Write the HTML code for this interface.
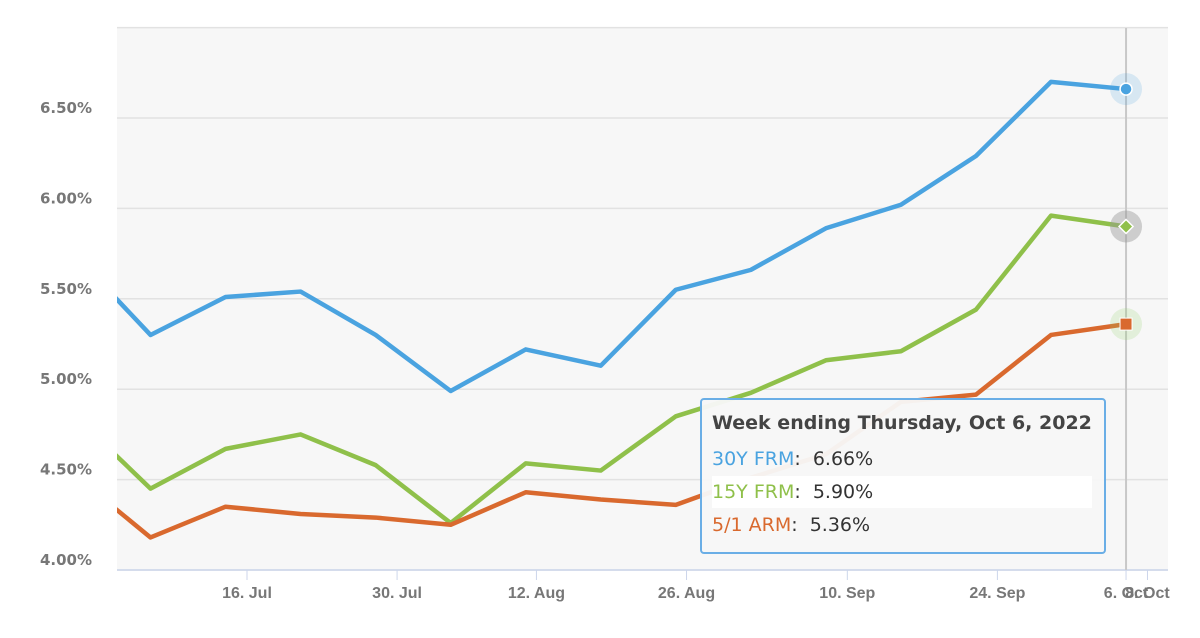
<!DOCTYPE html>
<html><head><meta charset="utf-8"><style>
body{margin:0;background:#fff;width:1200px;height:638px;overflow:hidden;font-family:"Liberation Sans",sans-serif}
#tt{position:absolute;left:700px;top:398px;width:406px;height:156px;border:2px solid #6aaee6;border-radius:4px;background:rgba(247,247,247,0.96);box-sizing:border-box;color:#333;font-family:"DejaVu Sans",sans-serif}
#tt .t{position:absolute;left:10px;top:12px;font-size:19px;font-weight:bold;color:#444;white-space:nowrap}
#tt .r{position:absolute;left:10px;height:32px;width:380px;font-size:19px;line-height:32px;white-space:nowrap}
</style></head><body>
<svg id="chart" width="1200" height="638" style="position:absolute;left:0;top:0"></svg>
<div id="tt">
<div class="t">Week ending Thursday, Oct 6, 2022</div>
<div class="r" style="top:43px"><span style="color:#4aa3e0">30Y FRM</span>:&nbsp; 6.66%</div>
<div class="r" style="top:76px;background:#fff"><span style="color:#8fc04a">15Y FRM</span>:&nbsp; 5.90%</div>
<div class="r" style="top:109px"><span style="color:#d9692e">5/1 ARM</span>:&nbsp; 5.36%</div>
</div>
<script>
const weeks = ["2022-06-30","2022-07-07","2022-07-14","2022-07-21","2022-07-28","2022-08-04","2022-08-11","2022-08-18","2022-08-25","2022-09-01","2022-09-08","2022-09-15","2022-09-22","2022-09-29","2022-10-06"];
const frm30 = [5.74,5.30,5.51,5.54,5.30,4.99,5.22,5.13,5.55,5.66,5.89,6.02,6.29,6.70,6.66];
const frm15 = [4.85,4.45,4.67,4.75,4.58,4.26,4.59,4.55,4.85,4.98,5.16,5.21,5.44,5.96,5.90];
const arm51 = [4.52,4.18,4.35,4.31,4.29,4.25,4.43,4.39,4.36,4.51,4.64,4.93,4.97,5.30,5.36];
const yTicks = [4.0,4.5,5.0,5.5,6.0,6.5,7.0];
const xTickDates = ["2022-07-16","2022-07-30","2022-08-12","2022-08-26","2022-09-10","2022-09-24","2022-10-06","2022-10-08"];
const xTickLabels = ["16. Jul","30. Jul","12. Aug","26. Aug","10. Sep","24. Sep","6. Oct","8. Oct"];

const NS="http://www.w3.org/2000/svg";
const svg=document.getElementById('chart');
const L=117,R=1168,T=28,B=570;
const d0=Date.parse("2022-07-16");
const x=d=>247+(Date.parse(d)-d0)/86400000*10.72;
const y=v=>570-(v-4)*180.8;
function mk(tag,a,p){const e=document.createElementNS(NS,tag);for(const k in a)e.setAttribute(k,a[k]);(p||svg).appendChild(e);return e;}
const bg=mk('rect',{x:L,y:T,width:R-L,height:B-T,fill:'#f7f7f7'});


yTicks.forEach(v=>{
  const g=mk('line',{x1:L,x2:R,y1:y(v),y2:y(v),stroke:'#e2e2e2','stroke-width':1.5});
  
  
  if(v<7){
    const t=mk('text',{x:92,y:y(v)-5,'text-anchor':'end','font-size':15,'font-weight':'bold',fill:'#777','font-family':'DejaVu Sans, sans-serif'});
    t.textContent=v.toFixed(2)+'%';
    
    
  }
});
const ax=mk('line',{x1:L,x2:R,y1:B,y2:B,stroke:'#ccd6eb','stroke-width':1.5});


xTickDates.forEach((d,i)=>{
  const tk=mk('line',{x1:x(d),x2:x(d),y1:B,y2:B+10,stroke:'#ccd6eb'});
  
  
  const t=mk('text',{x:x(d),y:598,'text-anchor':'middle','font-size':16,'font-weight':'bold',fill:'#777'});
  t.textContent=xTickLabels[i];
  
  
});
const cp=mk('clipPath',{id:'cp'});mk('rect',{x:L,y:T,width:R-L,height:B-T},cp);
const ch=mk('line',{x1:x(weeks[14]),x2:x(weeks[14]),y1:T,y2:B,stroke:'#c8c8c8','stroke-width':2});


const series=[[frm30,'#4aa3e0','series-30y-frm'],[frm15,'#8fc04a','series-15y-frm'],[arm51,'#d9692e','series-5-1-arm']];
series.forEach(([vals,c,n])=>{
  const p=mk('polyline',{points:vals.map((v,i)=>x(weeks[i])+','+y(v)).join(' '),fill:'none',stroke:c,'stroke-width':4.5,'stroke-linejoin':'round','clip-path':'url(#cp)'});
  
  
});
const lx=x(weeks[14]);
const h1=mk('circle',{cx:lx,cy:y(frm30[14]),r:16,fill:'#4aa3e0','fill-opacity':0.18});

const m1=mk('circle',{cx:lx,cy:y(frm30[14]),r:6,fill:'#4aa3e0',stroke:'#fff','stroke-width':1.5});

const h2=mk('circle',{cx:lx,cy:y(frm15[14]),r:16,fill:'#999','fill-opacity':0.45});

const yy=y(frm15[14]);
const m2=mk('polygon',{points:`${lx},${yy-7} ${lx+7},${yy} ${lx},${yy+7} ${lx-7},${yy}`,fill:'#8fc04a',stroke:'#fff','stroke-width':1.5});

const h3=mk('circle',{cx:lx,cy:y(arm51[14]),r:16,fill:'#8fd46a','fill-opacity':0.2});

const m3=mk('rect',{x:lx-6,y:y(arm51[14])-6,width:12,height:12,fill:'#d9692e',stroke:'#fff','stroke-width':1});

</script>
</body></html>
